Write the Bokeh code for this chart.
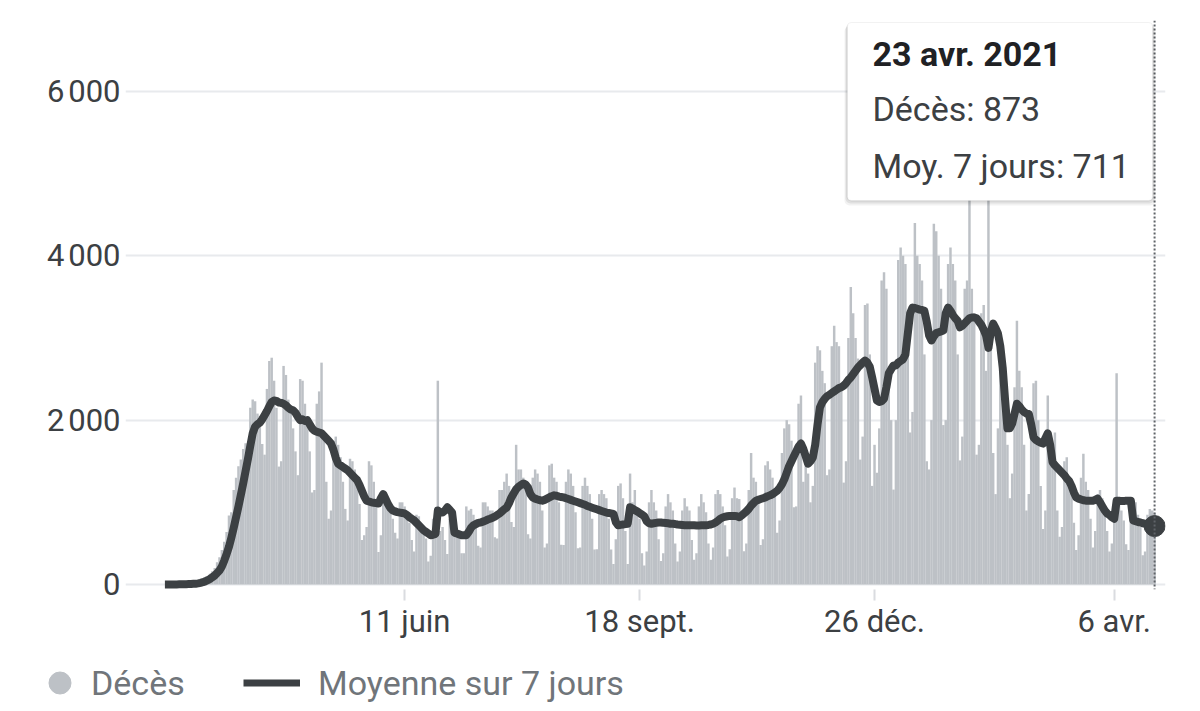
import datetime as dt
from bokeh.plotting import figure
from bokeh.layouts import column
from bokeh.models import (Range1d, FixedTicker, Span, BoxAnnotation, Label,
                          Legend, LegendItem, ColumnDataSource)
from bokeh.embed import file_html
from bokeh.resources import INLINE

# ---------------- data ----------------
start_date = dt.date(2020, 3, 2)

deces = [
    1, 1, 2, 2, 3, 4, 3,
    5, 7, 9, 11, 13, 14, 11,
    35, 48, 62, 80, 100, 130, 161,
    200, 270, 330, 420, 520, 640, 840,
    880, 1150, 1300, 1440, 1520, 1650, 1720,
    1600, 2150, 2250, 2230, 2080, 2050, 1710,
    1580, 2380, 2720, 2760, 2480, 2150, 1435,
    1500, 2660, 2550, 2250, 2150, 1900, 1620,
    1330, 2500, 2480, 2200, 2050, 1620, 1120,
    1150, 2200, 2350, 2700, 1800, 1250, 800,
    900, 1750, 1800, 1700, 1550, 1250, 920,
    780, 1530, 1500, 1400, 1250, 980, 540,
    600, 700, 1500, 1450, 1250, 1000, 395,
    600, 1100, 1100, 1050, 950, 800, 630,
    560, 1000, 1000, 950, 800, 750, 540,
    400, 850, 830, 720, 700, 560, 280,
    350, 800, 780, 2480, 650, 700, 540,
    370, 800, 720, 700, 650, 580, 380,
    380, 950, 900, 920, 850, 780, 470,
    450, 1000, 1000, 950, 900, 900, 575,
    560, 1150, 1150, 1250, 1350, 1200, 760,
    700, 1700, 1400, 1400, 1300, 1150, 610,
    560, 1300, 1400, 1350, 1250, 900, 450,
    500, 1450, 1470, 1300, 1250, 1000, 485,
    480, 1250, 1400, 1350, 1200, 880, 440,
    450, 1200, 1300, 1200, 1100, 800, 425,
    430, 1100, 1150, 1100, 1050, 800, 425,
    250, 550, 1200, 1230, 1050, 650, 250,
    1350, 1000, 1150, 900, 800, 380, 230,
    400, 1000, 1150, 1000, 900, 550, 285,
    380, 950, 1100, 1000, 900, 500, 280,
    400, 900, 1050, 950, 900, 540, 300,
    380, 950, 1100, 1000, 880, 500, 300,
    450, 1100, 1150, 1100, 950, 720, 340,
    430, 1050, 1180, 1050, 1040, 900, 405,
    500, 1150, 1600, 1300, 1250, 1000, 480,
    550, 1450, 1500, 1400, 1300, 1150, 630,
    780, 1600, 1900, 2000, 1950, 1750, 940,
    950, 2200, 2300, 1250, 1450, 1350, 1000,
    1200, 2700, 2900, 2850, 2600, 2450, 1330,
    1400, 2900, 3150, 2950, 2900, 2400, 1240,
    1500, 3000, 3620, 3300, 3000, 2750, 1520,
    1800, 3400, 3420, 2800, 1200, 1700, 1360,
    1900, 3700, 3800, 3600, 2500, 2000, 1155,
    2000, 3950, 4100, 4000, 3900, 3300, 1850,
    2100, 4400, 4000, 3900, 3700, 2800, 1500,
    1400, 2000, 4390, 4300, 4000, 3600, 1940,
    2000, 3900, 4100, 3900, 3700, 2800, 1510,
    1800, 3600, 3700, 5100, 3600, 3300, 1580,
    1700, 3300, 3400, 2600, 5400, 3000, 1600,
    1100, 1900, 2600, 2500, 2300, 1700, 1050,
    1350, 2400, 3210, 2600, 2400, 1700, 900,
    1100, 2100, 2450, 2480, 2000, 1200, 675,
    900, 2300, 1700, 1500, 1850, 900, 580,
    700, 1500, 1550, 1300, 1200, 750, 420,
    600, 1300, 1590, 1250, 1150, 800, 450,
    650, 1100, 1150, 1050, 950, 650, 400,
    500, 900, 2570, 1000, 900, 780, 490,
    420, 950, 940, 1000, 850, 700, 355,
    400, 850, 920, 900, 873,
]

moyenne_7j = [
    0, 0, 0, 1, 1, 1, 2,
    2, 3, 4, 5, 6, 8, 10,
    14, 20, 28, 38, 52, 68, 88,
    110, 140, 170, 220, 290, 370, 460,
    570, 690, 820, 950, 1090, 1230, 1380,
    1530, 1690, 1840, 1920, 1950, 1970, 2010,
    2060, 2110, 2170, 2220, 2240, 2235, 2215,
    2210, 2200, 2180, 2150, 2130, 2120, 2090,
    2040, 2000, 2010, 1990, 2000, 1950, 1900,
    1870, 1860, 1850, 1840, 1810, 1780, 1750,
    1715, 1640, 1540, 1470, 1450, 1430, 1410,
    1390, 1360, 1330, 1300, 1270, 1210, 1140,
    1070, 1020, 1010, 1000, 995, 990, 985,
    1050, 1100, 1040, 980, 930, 900, 890,
    880, 875, 870, 865, 845, 820, 800,
    780, 750, 720, 690, 660, 640, 620,
    600, 605, 615, 900, 880, 875, 900,
    940, 910, 875, 630, 620, 610, 600,
    600, 600, 640, 690, 720, 735, 750,
    755, 765, 775, 790, 800, 812, 825,
    845, 865, 890, 915, 935, 990, 1060,
    1110, 1160, 1190, 1210, 1230, 1215, 1180,
    1100, 1060, 1045, 1035, 1025, 1020, 1030,
    1045, 1060, 1075, 1085, 1080, 1070, 1065,
    1060, 1050, 1040, 1030, 1020, 1010, 1000,
    990, 980, 970, 955, 945, 935, 925,
    915, 905, 895, 885, 875, 870, 865,
    860, 760, 720, 725, 730, 735, 740,
    940, 925, 905, 890, 870, 850, 830,
    770, 745, 740, 745, 750, 755, 755,
    750, 748, 745, 740, 738, 735, 730,
    728, 725, 722, 720, 720, 720, 720,
    718, 718, 720, 720, 722, 725, 730,
    740, 755, 775, 800, 815, 825, 830,
    835, 835, 835, 830, 820, 840, 865,
    890, 920, 960, 990, 1020, 1030, 1040,
    1050, 1060, 1075, 1085, 1100, 1120, 1140,
    1175, 1220, 1280, 1360, 1440, 1500, 1560,
    1620, 1680, 1715, 1650, 1560, 1470, 1500,
    1545, 1700, 1950, 2155, 2220, 2260, 2290,
    2310, 2330, 2350, 2370, 2390, 2400, 2420,
    2450, 2490, 2520, 2560, 2600, 2640, 2670,
    2700, 2725, 2700, 2650, 2520, 2380, 2240,
    2220, 2230, 2260, 2400, 2570, 2620, 2665,
    2665, 2700, 2720, 2740, 2800, 3050, 3300,
    3370, 3365, 3355, 3345, 3340, 3330, 3200,
    3030, 2970, 3020, 3060, 3070, 3080, 3090,
    3300, 3370, 3330, 3280, 3240, 3210, 3130,
    3150, 3180, 3210, 3240, 3250, 3250, 3240,
    3200, 3160, 3100, 3030, 2880, 3080, 3175,
    3120, 3055, 2900, 2640, 2250, 1900, 1900,
    1960, 2080, 2200, 2170, 2130, 2100, 2080,
    2075, 1950, 1790, 1760, 1740, 1725, 1715,
    1780, 1840, 1700, 1490, 1450, 1420, 1390,
    1360, 1330, 1290, 1260, 1200, 1120, 1060,
    1045, 1035, 1025, 1020, 1020, 1020, 1020,
    1030, 1045, 1000, 950, 900, 865, 845,
    820, 800, 1020, 1020, 1015, 1015, 1020,
    1020, 1020, 780, 770, 760, 755, 745,
    740, 735, 728, 720, 711,
]

tick_dates = ["2020-06-11", "2020-09-18", "2020-12-26", "2021-04-06"]
tick_labels = ["11 juin", "18 sept.", "26 déc.", "6 avr."]
y_ticks = [0, 2000, 4000, 6000]
y_tick_labels = ["0", "2\u202f000", "4\u202f000", "6\u202f000"]
mois_fr = ["janv.", "févr.", "mars", "avr.", "mai", "juin",
           "juil.", "août", "sept.", "oct.", "nov.", "déc."]
series_names = ["Décès", "Moyenne sur 7 jours"]

# ---------------- derived ----------------
jours = list(range(len(deces)))
tick_pos = [(dt.date.fromisoformat(s) - start_date).days for s in tick_dates]
last_date = start_date + dt.timedelta(days=len(deces) - 1)
date_txt = f"{last_date.day} {mois_fr[last_date.month - 1]} {last_date.year}"

src = ColumnDataSource(dict(jour=jours, deces=deces, moy=moyenne_7j))

FONT = "Roboto"
BAR = "#bdc1c6"
LINE = "#3c4043"

# ---------------- main chart ----------------
p = figure(width=1184, height=645, output_backend="svg", toolbar_location=None,
           x_range=Range1d(-16.6, 421.6), y_range=Range1d(-61, 6864),
           min_border_left=125, min_border_right=19,
           min_border_top=20, min_border_bottom=56)
p.frame_align = False
p.outline_line_color = None
p.background_fill_color = "white"
p.border_fill_color = "white"

p.xgrid.visible = False
p.ygrid.ticker = FixedTicker(ticks=y_ticks)
p.ygrid.grid_line_color = "#e8eaed"
p.ygrid.grid_line_width = 2

ya = p.yaxis[0]
ya.ticker = FixedTicker(ticks=y_ticks)
ya.major_label_overrides = dict(zip(y_ticks, y_tick_labels))
ya.axis_line_color = None
ya.major_tick_line_color = None
ya.minor_tick_line_color = None
ya.major_tick_in = 0
ya.major_tick_out = 0
ya.major_label_standoff = 5
ya.major_label_text_font = FONT
ya.major_label_text_font_size = "31px"
ya.major_label_text_color = "#3c4043"

xa = p.xaxis[0]
xa.ticker = FixedTicker(ticks=tick_pos)
xa.major_label_overrides = dict(zip(tick_pos, tick_labels))
xa.axis_line_color = None
xa.minor_tick_line_color = None
xa.major_tick_line_color = "#dadce0"
xa.major_tick_line_width = 2
xa.major_tick_in = 0
xa.major_tick_out = 11
xa.major_label_standoff = 2
xa.major_label_text_font = FONT
xa.major_label_text_font_size = "31px"
xa.major_label_text_color = "#3c4043"

p.vbar(x="jour", top="deces", bottom=0, width=1.04, source=src,
       fill_color=BAR, line_color=None)
p.line(x="jour", y="moy", source=src, line_color=LINE, line_width=8,
       line_join="round")
p.scatter(x=[jours[-1]], y=[moyenne_7j[-1]], size=21, marker="circle",
          fill_color=LINE, line_color=LINE)

p.add_layout(Span(location=jours[-1], dimension="height", line_color="#5f6368",
                  line_width=2, line_dash="2 2"))

# tooltip card (screen units, relative to the plot frame)
for dx, dy, a in [(3, 5, 0.05), (2, 3, 0.07), (1, 1, 0.09)]:
    p.add_layout(BoxAnnotation(left=722 - dx, right=1027 + dx, top=567 - dy + 1, bottom=389 - dy,
                               left_units="screen", right_units="screen",
                               top_units="screen", bottom_units="screen",
                               fill_color="black", fill_alpha=a, line_color=None,
                               border_radius=5))
p.add_layout(BoxAnnotation(left=722, right=1027, top=567, bottom=389,
                           left_units="screen", right_units="screen",
                           top_units="screen", bottom_units="screen",
                           fill_color="white", fill_alpha=1, line_color="#e0e0e0",
                           line_width=1, border_radius=4))
tip_lines = [date_txt, f"Décès: {deces[-1]}", f"Moy. 7 jours: {moyenne_7j[-1]}"]
for txt, yy, bold, col in zip(tip_lines, [536, 481, 424], [True, False, False],
                              ["#202124", "#3c4043", "#3c4043"]):
    p.add_layout(Label(x=747, y=yy, x_units="screen", y_units="screen", text=txt,
                       text_font=FONT, text_font_size="34px",
                       text_font_style="bold" if bold else "normal",
                       text_color=col, text_baseline="middle"))

# ---------------- legend strip ----------------
# the legend renderers use the series data but the strip's ranges keep them out of view
q = figure(width=1184, height=58, output_backend="svg", toolbar_location=None,
           x_range=Range1d(0, 1), y_range=Range1d(-20000, -10000),
           x_axis_location=None, y_axis_location=None,
           min_border_left=0, min_border_right=0, min_border_top=0, min_border_bottom=0)
q.frame_align = False
q.grid.visible = False
q.outline_line_color = None
q.background_fill_color = "white"
q.border_fill_color = "white"
dot_r = q.scatter(x="jour", y="deces", source=src, marker="circle", size=22,
                  fill_color=BAR, line_color=BAR)
line_r = q.line(x="jour", y="moy", source=src, line_color=LINE, line_width=7)
common = dict(padding=0, margin=0, spacing=0, border_line_color=None,
              background_fill_alpha=0, label_text_font=FONT,
              label_text_font_size="34px", label_text_color="#70757a",
              glyph_height=55, orientation="horizontal")
leg1 = Legend(items=[LegendItem(label=series_names[0], renderers=[dot_r])],
              location=(32, -7), glyph_width=55, label_standoff=4, **common)
leg2 = Legend(items=[LegendItem(label=series_names[1], renderers=[line_r])],
              location=(243, -7), glyph_width=57, label_standoff=18, **common)
q.add_layout(leg1)
q.add_layout(leg2)

layout = column(p, q, spacing=0)
open("out.html", "w").write(file_html(layout, INLINE))
